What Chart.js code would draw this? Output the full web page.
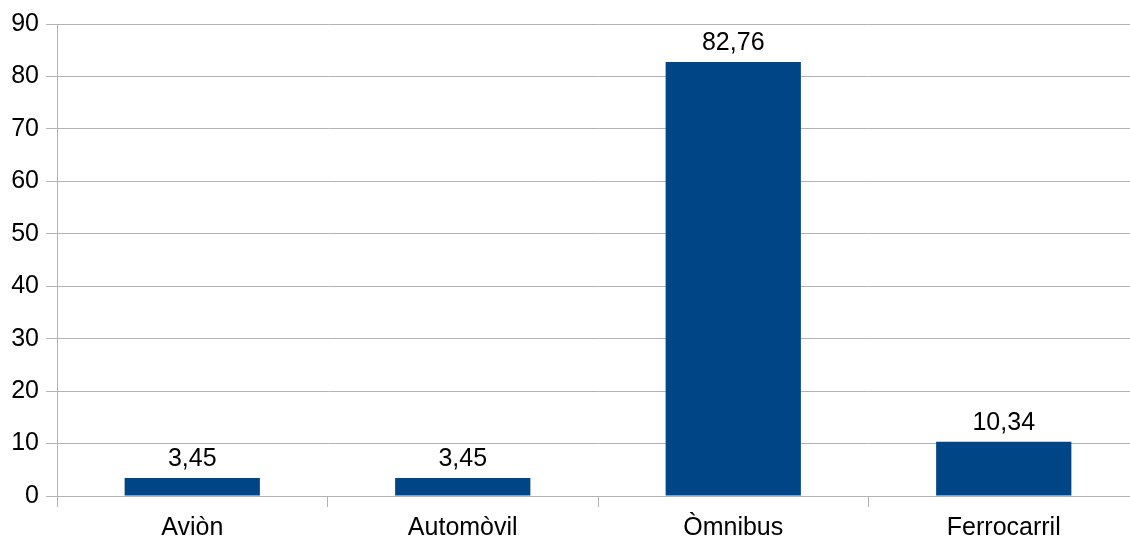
<!DOCTYPE html>
<html lang="ca">

<head>
    <meta charset="UTF-8">
    <title>Mitjà de transport</title>
    <script src="https://cdn.jsdelivr.net/npm/chart.js"></script>
    <style>
        html, body { margin: 0; padding: 0; background: #fff; overflow: hidden; }
        #wrap { width: 1139px; height: 542px; }
    </style>
</head>

<body>
    <div id="wrap">
        <canvas id="myChart" width="1139" height="542"></canvas>
    </div>
    <script>
        // dades
        var categories = ['Aviòn', 'Automòvil', 'Òmnibus', 'Ferrocarril'];
        var values = [3.45, 3.45, 82.76, 10.34];
        var yTicks = [0, 10, 20, 30, 40, 50, 60, 70, 80, 90];

        var gridColor = '#b3b3b3';
        var fontFam = '"Liberation Sans", Arial, sans-serif';

        // etiquetes sobre les barres
        var valueLabels = {
            id: 'valueLabels',
            afterDatasetsDraw: function (chart) {
                var ctx = chart.ctx;
                var meta = chart.getDatasetMeta(0);
                ctx.save();
                ctx.font = '25px ' + fontFam;
                ctx.fillStyle = '#000';
                ctx.textAlign = 'center';
                ctx.textBaseline = 'alphabetic';
                meta.data.forEach(function (bar, i) {
                    var txt = values[i].toFixed(2).replace('.', ',');
                    ctx.fillText(txt, bar.x, bar.y - 12);
                });
                ctx.restore();
            }
        };

        const ctx = document.getElementById('myChart');
        var myChart = new Chart(ctx, {
            type: 'bar',
            data: {
                labels: categories,
                datasets: [{
                    data: values,
                    backgroundColor: '#004586',
                    borderWidth: 0,
                    barPercentage: 0.5,
                    categoryPercentage: 1.0
                }]
            },
            options: {
                responsive: false,
                animation: false,
                layout: { padding: { top: 24, left: 0, right: 0, bottom: 0 } },
                plugins: {
                    legend: { display: false },
                    tooltip: { enabled: false }
                },
                scales: {
                    x: {
                        offset: true,
                        grid: {
                            offset: true,
                            drawOnChartArea: false,
                            drawTicks: true,
                            tickLength: 11,
                            color: gridColor
                        },
                        border: { color: gridColor },
                        ticks: {
                            color: '#000',
                            padding: 6,
                            font: { family: fontFam, size: 25 }
                        },
                        afterFit: function (scale) { scale.height = 46; }
                    },
                    y: {
                        min: 0,
                        max: 90,
                        afterBuildTicks: function (scale) {
                            scale.ticks = yTicks.map(function (v) { return { value: v }; });
                        },
                        grid: {
                            color: gridColor,
                            tickLength: 11
                        },
                        border: { color: gridColor },
                        ticks: {
                            color: '#000',
                            padding: 7,
                            font: { family: fontFam, size: 25 }
                        },
                        afterFit: function (scale) { scale.width = 57; }
                    }
                }
            },
            plugins: [valueLabels]
        });
    </script>

</body>

</html>
